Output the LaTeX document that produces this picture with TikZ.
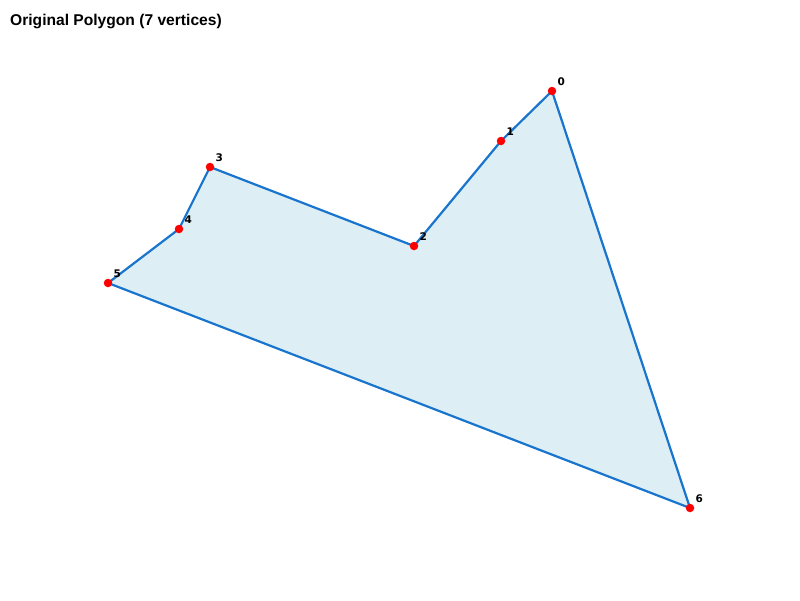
\documentclass[tikz,border=0pt]{standalone}
\usepackage{fontspec}
\setmainfont{Liberation Sans}
\newfontfamily\labfont{DejaVu Sans}
\definecolor{edgeblue}{HTML}{1874CD}
\definecolor{fillblue}{HTML}{DDEFF4}
\begin{document}
\begin{tikzpicture}[x=1pt,y=-1pt,
  vert/.style={circle,fill=red,inner sep=0pt,minimum size=8.5pt},
  vlabel/.style={anchor=base west,inner sep=0pt,font=\labfont\bfseries\fontsize{10.5}{12}\selectfont},
  edge/.style={draw=edgeblue,line width=2.2pt,line join=round}]
\useasboundingbox (0,0) rectangle (800,600);
\coordinate (p0) at (552,91);
\coordinate (p1) at (501,141);
\coordinate (p2) at (414,246);
\coordinate (p3) at (210,167);
\coordinate (p4) at (179,229);
\coordinate (p5) at (108,283);
\coordinate (p6) at (690,508);
\path[fill=fillblue,edge] (p0) -- (p1) -- (p2) -- (p3) -- (p4) -- (p5) -- (p6) -- cycle;
\foreach \i in {0,...,6}{
  \node[vert] (v\i) at (p\i) {};
  \node[vlabel] (l\i) at ([xshift=5.5pt,yshift=6pt]p\i) {\i};
}
\node[anchor=base west,inner sep=0pt,font=\bfseries\fontsize{15.6}{18}\selectfont] (title) at (10,25) {Original Polygon (7 vertices)};
\end{tikzpicture}
\end{document}
